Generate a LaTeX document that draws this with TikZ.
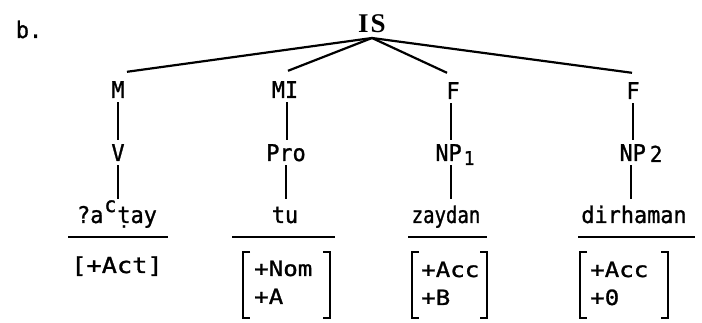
\documentclass[tikz,border=0pt]{standalone}
\usepackage{fontspec}
\newfontfamily\tw[FakeStretch=0.95,FakeBold=1.2]{DejaVu Sans Mono}
\newfontfamily\tf[FakeStretch=1.15,FakeBold=1.2]{DejaVu Sans Mono}
\newfontfamily\sr{Liberation Serif}
\begin{document}
\begin{tikzpicture}[x=1pt,y=-1pt,
  lbl/.style={font=\tw\fontsize{23}{25}\selectfont, anchor=base, inner sep=4pt, text height=17pt, text depth=0pt},
  wrd/.style={font=\tw\fontsize{23}{25}\selectfont, anchor=base, inner sep=0pt, text height=24pt, text depth=0pt},
  feat/.style={font=\tf\fontsize{21}{23}\selectfont, inner sep=0pt, anchor=base west},
  br/.style={line width=1.7pt},
  ln/.style={line width=2.2pt},
  ul/.style={line width=1.9pt}]
\useasboundingbox (0,0) rectangle (702,323);
\node[lbl] (b) at (29,38) {b.};
\node[font=\sr\bfseries\fontsize{27}{29}\selectfont, inner sep=0pt, anchor=base] (IS) at (372,33) {I\kern2pt S};
\node[lbl] (M) at (118,98) {M};
\node[lbl] (MI) at (285,98) {MI};
\node[lbl] (F1) at (453,99) {F};
\node[lbl] (F2) at (633,99) {F};
\node[lbl] (V) at (118,161) {V};
\node[lbl] (Pro) at (286,161) {Pro};
\node[lbl] (NP1) at (455,161) {NP\kern2pt\raisebox{-4pt}{\fontsize{19}{19}\selectfont 1}};
\node[lbl] (NP2) at (641,161) {NP\kern4pt\raisebox{-1pt}{\fontsize{22}{22}\selectfont 2}};
\node[wrd] (w1) at (117,223) {?a\kern1pt\raisebox{11pt}{\fontsize{21}{21}\selectfont c}\kern1pt ṭay};
\node[wrd] (w2) at (285,223) {tu};
\node[wrd] (w3) at (446,223) {\scalebox{0.87}[1]{zaydan}};
\node[wrd] (w4) at (634,223) {dirhaman};
\node[font=\tf\fontsize{22}{24}\selectfont, inner sep=0pt, anchor=base] (act) at (117,273) {[+Act]};
% tree connectors
\coordinate (apex) at (372,38);
\draw[ln] (apex) -- ([xshift=9pt,yshift=5pt]M.north);
\draw[ln] (apex) -- ([xshift=3pt,yshift=6pt]MI.north);
\draw[ln] (apex) -- ([xshift=-6pt,yshift=5pt]F1.north);
\draw[ln] (apex) -- ([xshift=-1pt,yshift=5pt]F2.north);
\draw[ln] (M.south) -- (M.south |- V.north);
\draw[ln] ([xshift=2pt]MI.south) -- ([xshift=2pt]MI.south |- Pro.north);
\draw[ln] ([xshift=-2pt]F1.south) -- ([xshift=-2pt]F1.south |- NP1.north);
\draw[ln] (F2.south) -- (F2.south |- NP2.north);
\draw[ln] (V.south) -- (V.south |- w1.north);
\draw[ln] (Pro.south) -- (Pro.south |- w2.north);
\draw[ln] ([xshift=-2pt]F1.south |- NP1.south) -- ([xshift=-2pt]F1.south |- w3.north);
\draw[ln] ([xshift=-2pt]F2.south |- NP2.south) -- ([xshift=-2pt]F2.south |- w4.north);
% underlines
\draw[ul] (68,237) -- (168,237);
\draw[ul] (232,237) -- (335,237);
\draw[ul] (408,237) -- (487,237);
\draw[ul] (578,237) -- (695,237);
% feature matrices
\draw[br] (250,252) -- (243,252) -- (243,318) -- (250,318);
\draw[br] (323,252) -- (330,252) -- (330,318) -- (323,318);
\node[feat] (n2a) at (254,276) {+Nom};
\node[feat] (n2b) at (254,304) {+A};
\draw[br] (419,252) -- (412,252) -- (412,318) -- (419,318);
\draw[br] (480,252) -- (487,252) -- (487,318) -- (480,318);
\node[feat] (n3a) at (421,277) {+Acc};
\node[feat] (n3b) at (421,305) {+B};
\draw[br] (587,252) -- (580,252) -- (580,318) -- (587,318);
\draw[br] (661,252) -- (668,252) -- (668,318) -- (661,318);
\node[feat] (n4a) at (590,277) {+Acc};
\node[feat] (n4b) at (590,305) {+0};
\end{tikzpicture}
\end{document}
